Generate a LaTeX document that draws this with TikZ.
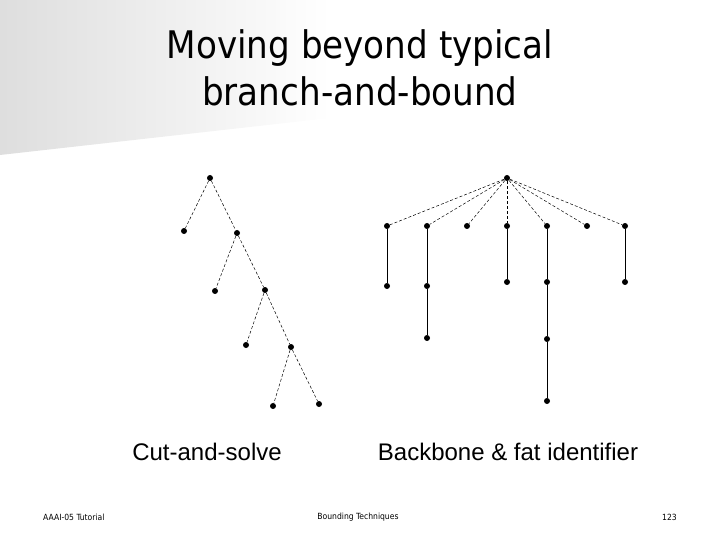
\documentclass[tikz,border=0pt]{standalone}
\usepackage{fontspec}
\setmainfont{Liberation Sans}
\newfontfamily\titlefont{DejaVu Sans Condensed}
\begin{document}
\begin{tikzpicture}[x=1pt,y=-1pt,
  dot/.style={circle,fill=black,inner sep=0pt,minimum size=6pt},
  dl/.style={densely dashed,line width=0.5pt},
  sl/.style={line width=0.8pt}]
\useasboundingbox (0,0) rectangle (720,540);
\shade[left color=black!13,right color=white] (0,0) -- (330,0) -- (330,118) -- (0,155) -- cycle;
\node[font=\titlefont\fontsize{38}{47}\selectfont,align=center] (title) at (360,68) {Moving beyond typical\\branch-and-bound};
% left tree
\node[dot] (a) at (210,178) {};
\node[dot] (a1) at (184,231) {};
\node[dot] (a2) at (237,233) {};
\node[dot] (b1) at (215,291) {};
\node[dot] (b2) at (265,290) {};
\node[dot] (c1) at (246,345) {};
\node[dot] (c2) at (291,347) {};
\node[dot] (d1) at (273,406) {};
\node[dot] (d2) at (319,404) {};
\foreach \p/\c in {a/a1,a/a2,a2/b1,a2/b2,b2/c1,b2/c2,c2/d1,c2/d2} \draw[dl] (\p) -- (\c);
% right tree
\node[dot] (r) at (507,178) {};
\foreach \i/\x in {1/387,2/427,3/467,4/507,5/547,6/587,7/625} {
  \node[dot] (k\i) at (\x,226) {};
  \draw[dl] (r) -- (k\i);
}
\node[dot] (k1a) at (387,286) {};
\node[dot] (k2a) at (427,286) {};
\node[dot] (k2b) at (427,338) {};
\node[dot] (k4a) at (507,282) {};
\node[dot] (k5a) at (547,282) {};
\node[dot] (k5b) at (547,339) {};
\node[dot] (k5c) at (547,401) {};
\node[dot] (k7a) at (625,282) {};
\draw[sl] (k1) -- (k1a);
\draw[sl] (k2) -- (k2a) -- (k2b);
\draw[sl] (k4) -- (k4a);
\draw[sl] (k5) -- (k5a) -- (k5b) -- (k5c);
\draw[sl] (k7) -- (k7a);
\node[font=\fontsize{24}{28}\selectfont] (l1) at (207,452) {Cut-and-solve};
\node[font=\fontsize{24}{28}\selectfont] (l2) at (508,452) {Backbone \& fat identifier};
\node[font=\titlefont\fontsize{8.5}{10}\selectfont,anchor=west,inner sep=0pt] (f1) at (43,517) {AAAI-05 Tutorial};
\node[font=\titlefont\fontsize{8.5}{10}\selectfont] (f2) at (358,517) {Bounding Techniques};
\node[font=\titlefont\fontsize{8.5}{10}\selectfont,anchor=east,inner sep=0pt] (f3) at (677,517) {123};
\end{tikzpicture}
\end{document}
